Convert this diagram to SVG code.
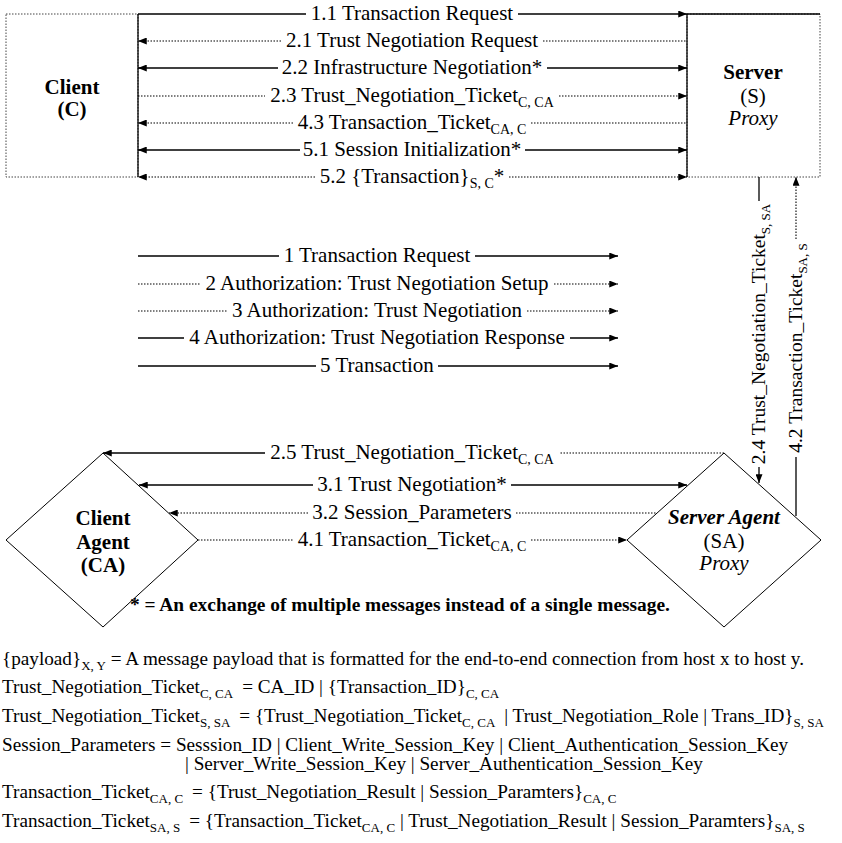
<svg xmlns="http://www.w3.org/2000/svg" width="842" height="843" viewBox="0 0 842 843" font-family="'Liberation Serif', 'Times New Roman', 'DejaVu Serif', serif">
<style>
text{font-family:'Liberation Serif','Times New Roman','DejaVu Serif',serif;fill:#000}
.lb{font-size:21px;text-anchor:middle}
.rl{font-size:19.5px;text-anchor:middle}
.nd{font-size:21px;text-anchor:middle}
.b{font-weight:bold}
.i{font-style:italic}
.s14{font-size:14px}
.s13{font-size:13px}
.tx{font-size:19.2px}
.solid{fill:none;stroke:#000;stroke-width:1.3}
.dot{fill:none;stroke:#000;stroke-width:1.1;stroke-dasharray:1.5 1.5}
.edge{fill:none;stroke:#444;stroke-width:1;stroke-dasharray:1.5 1.5}
.shape{fill:none;stroke:#000;stroke-width:1}
</style>
<defs>
<marker id="ah" viewBox="0 0 10 8" refX="10" refY="4" markerWidth="9" markerHeight="7" markerUnits="userSpaceOnUse" orient="auto">
<path d="M0,0 L10,4 L0,8 z" fill="#000"/>
</marker>
</defs>

<g id="client">
<rect x="6" y="14" width="132" height="163" class="edge"/>
<line x1="138" y1="14" x2="138" y2="177" class="solid"/>
<text class="nd b" x="72" y="94">Client</text>
<text class="nd b" x="72" y="116">(C)</text>
</g>

<g id="server">
<rect x="687" y="14" width="133" height="163" class="edge"/>
<line x1="687" y1="14" x2="687" y2="177" class="solid"/>
<line x1="687" y1="14" x2="820" y2="14" class="solid"/>
<text class="nd b" x="753" y="79">Server</text>
<text class="nd" x="753" y="103">(S)</text>
<text class="nd i" x="753" y="125">Proxy</text>
</g>

<g id="client-agent">
<polygon points="103,453 198,540 103,627 6,540" class="shape"/>
<text class="nd b" x="103" y="525">Client</text>
<text class="nd b" x="103" y="549">Agent</text>
<text class="nd b" x="103" y="572">(CA)</text>
</g>

<g id="server-agent">
<polygon points="724,453 821,540 724,627 627,540" class="shape"/>
<text class="nd b i" x="724" y="524">Server Agent</text>
<text class="nd" x="724" y="548">(SA)</text>
<text class="nd i" x="724" y="570">Proxy</text>
</g>

<g id="connectors">
<path d="M138,14 H306" class="solid"/>
<path d="M518,14 H687" class="solid" marker-end="url(#ah)"/>
<path d="M281,41 H138" class="dot" marker-end="url(#ah)"/>
<path d="M543,41 H687" class="dot"/>
<path d="M278,68 H138" class="solid" marker-end="url(#ah)"/>
<path d="M547,68 H687" class="solid" marker-end="url(#ah)"/>
<path d="M138,96 H265" class="dot"/>
<path d="M559,96 H687" class="dot" marker-end="url(#ah)"/>
<path d="M293,123 H138" class="dot" marker-end="url(#ah)"/>
<path d="M531,123 H687" class="dot"/>
<path d="M300,150 H138" class="solid" marker-end="url(#ah)"/>
<path d="M525,150 H687" class="solid" marker-end="url(#ah)"/>
<path d="M315,177 H138" class="dot" marker-end="url(#ah)"/>
<path d="M509,177 H687" class="dot" marker-end="url(#ah)"/>

<path d="M759,177 V201" class="solid"/>
<path d="M759,467 V483" class="solid" marker-end="url(#ah)"/>
<path d="M796,516 V457" class="solid"/>
<path d="M796,239 V177" class="dot" marker-end="url(#ah)"/>

<path d="M265,453 H103" class="solid" marker-end="url(#ah)"/>
<path d="M724,453 H559" class="dot"/>
<path d="M313,485 H139" class="solid" marker-end="url(#ah)"/>
<path d="M511,485 H687" class="solid" marker-end="url(#ah)"/>
<path d="M308,513 H169" class="dot" marker-end="url(#ah)"/>
<path d="M516,513 H656" class="dot"/>
<path d="M198,540 H293" class="dot"/>
<path d="M531,540 H627" class="dot" marker-end="url(#ah)"/>

<text class="lb" x="412" y="20">1.1 Transaction Request</text>
<text class="lb" x="412" y="47">2.1 Trust Negotiation Request</text>
<text class="lb" x="412" y="74">2.2 Infrastructure Negotiation*</text>
<text class="lb" x="412" y="102">2.3 Trust_Negotiation_Ticket<tspan class="s14" dy="5">C, CA</tspan></text>
<text class="lb" x="412" y="129">4.3 Transaction_Ticket<tspan class="s14" dy="5">CA, C</tspan></text>
<text class="lb" x="412" y="156">5.1 Session Initialization*</text>
<text class="lb" x="412" y="183">5.2 {Transaction}<tspan class="s14" dy="5">S, C</tspan><tspan dy="-5">*</tspan></text>

<text class="rl" transform="translate(759,334) rotate(-90)" y="6">2.4 Trust_Negotiation_Ticket<tspan class="s13" dy="5">S, SA</tspan></text>
<text class="rl" transform="translate(796,348) rotate(-90)" y="6">4.2 Transaction_Ticket<tspan class="s13" dy="5">SA, S</tspan></text>

<text class="lb" x="412" y="459">2.5 Trust_Negotiation_Ticket<tspan class="s14" dy="5">C, CA</tspan></text>
<text class="lb" x="412" y="491">3.1 Trust Negotiation*</text>
<text class="lb" x="412" y="519">3.2 Session_Parameters</text>
<text class="lb" x="412" y="546">4.1 Transaction_Ticket<tspan class="s14" dy="5">CA, C</tspan></text>
</g>

<g id="legend">
<path d="M138,256 H279" class="solid"/>
<path d="M475,256 H618" class="solid" marker-end="url(#ah)"/>
<path d="M138,284 H200" class="dot"/>
<path d="M554,284 H618" class="dot" marker-end="url(#ah)"/>
<path d="M138,311 H227" class="dot"/>
<path d="M527,311 H618" class="dot" marker-end="url(#ah)"/>
<path d="M138,338 H184" class="solid"/>
<path d="M570,338 H618" class="solid" marker-end="url(#ah)"/>
<path d="M138,366 H316" class="solid"/>
<path d="M438,366 H618" class="solid" marker-end="url(#ah)"/>
<text class="lb" x="377" y="262">1 Transaction Request</text>
<text class="lb" x="377" y="290">2 Authorization: Trust Negotiation Setup</text>
<text class="lb" x="377" y="317">3 Authorization: Trust Negotiation</text>
<text class="lb" x="377" y="344">4 Authorization: Trust Negotiation Response</text>
<text class="lb" x="377" y="372">5 Transaction</text>
</g>

<g id="notes">
<text class="b" x="130" y="611" font-size="19.4">* = An exchange of multiple messages instead of a single message.</text>
<text class="tx" x="2" y="665">{payload}<tspan class="s13" dy="5">X, Y</tspan><tspan dy="-5"> = A message payload that is formatted for the end-to-end connection from host x to host y.</tspan></text>
<text class="tx" x="2" y="693">Trust_Negotiation_Ticket<tspan class="s13" dy="5">C, CA</tspan><tspan dy="-5" dx="9">= CA_ID | {Transaction_ID}</tspan><tspan class="s13" dy="5">C, CA</tspan></text>
<text class="tx" x="2" y="722">Trust_Negotiation_Ticket<tspan class="s13" dy="5">S, SA</tspan><tspan dy="-5" dx="9">= {Trust_Negotiation_Ticket</tspan><tspan class="s13" dy="5">C, CA</tspan><tspan dy="-5" dx="9">| Trust_Negotiation_Role | Trans_ID}</tspan><tspan class="s13" dy="5">S, SA</tspan></text>
<text class="tx" x="2" y="751">Session_Parameters = Sesssion_ID | Client_Write_Session_Key | Client_Authentication_Session_Key</text>
<text class="tx" x="185" y="770">| Server_Write_Session_Key | Server_Authentication_Session_Key</text>
<text class="tx" x="2" y="798">Transaction_Ticket<tspan class="s13" dy="5">CA, C</tspan><tspan dy="-5" dx="9">= {Trust_Negotiation_Result | Session_Paramters}</tspan><tspan class="s13" dy="5">CA, C</tspan></text>
<text class="tx" x="2" y="827">Transaction_Ticket<tspan class="s13" dy="5">SA, S</tspan><tspan dy="-5" dx="9">= {Transaction_Ticket</tspan><tspan class="s13" dy="5">CA, C</tspan><tspan dy="-5"> | Trust_Negotiation_Result | Session_Paramters}</tspan><tspan class="s13" dy="5">SA, S</tspan></text>
</g>
</svg>
